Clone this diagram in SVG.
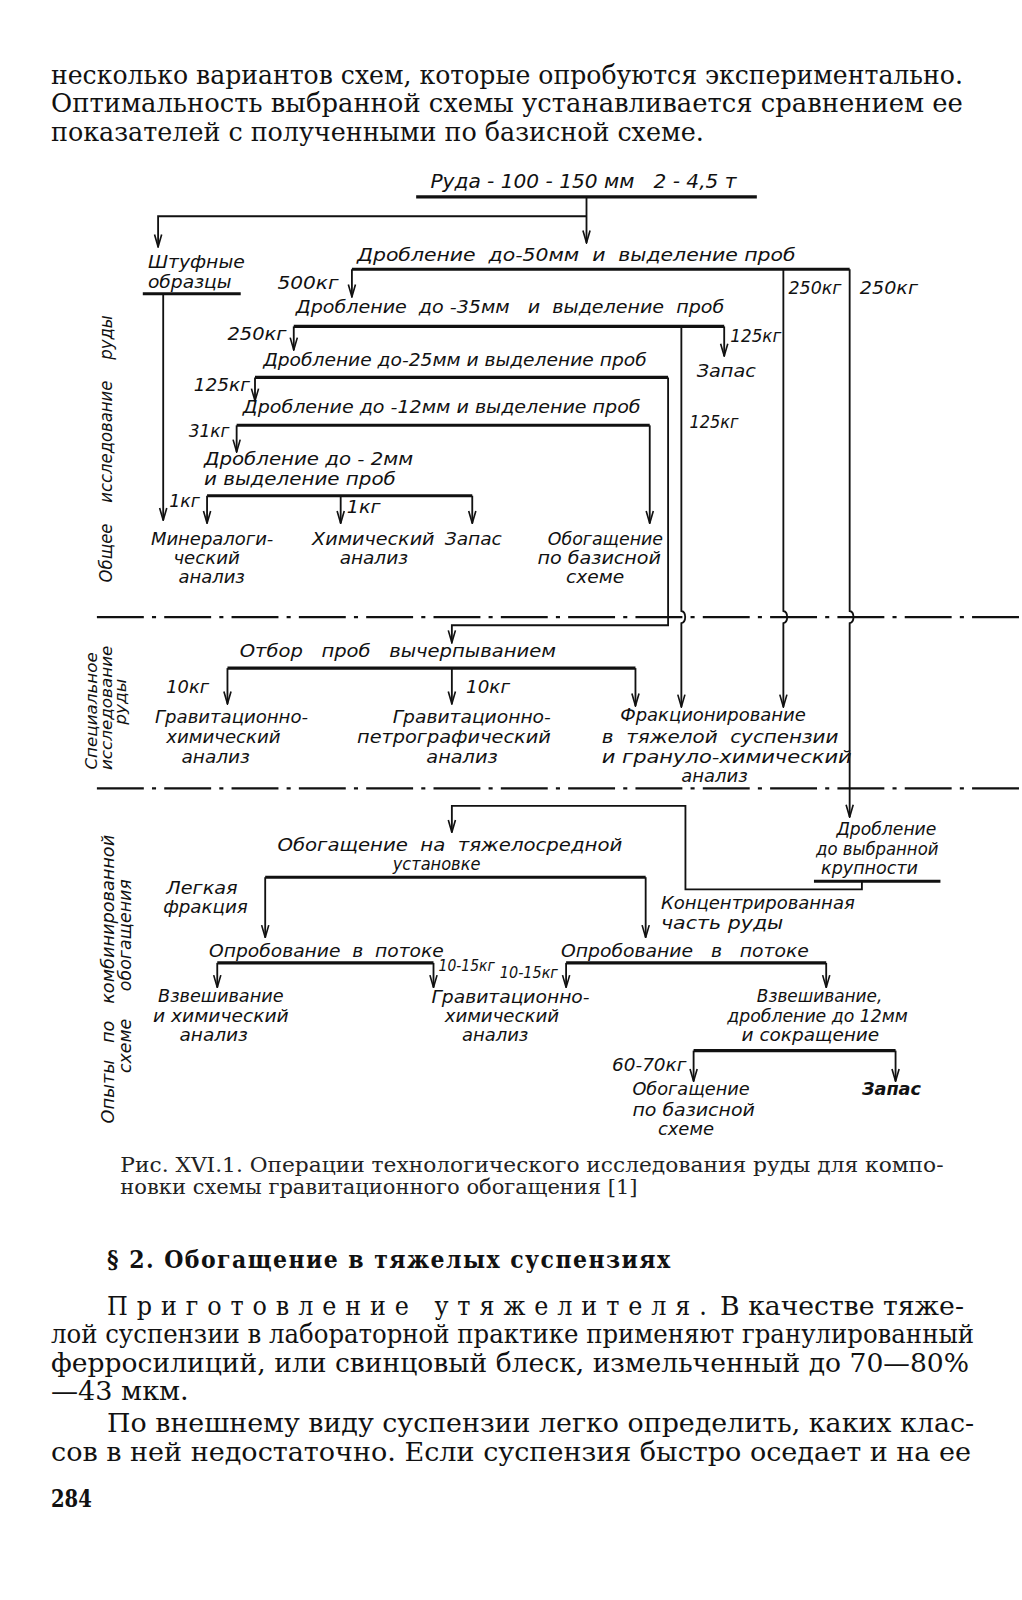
<svg xmlns="http://www.w3.org/2000/svg" width="1022" height="1600" viewBox="0 0 1022 1600">
<style>
.t{font-family:"DejaVu Sans Condensed","Liberation Sans Narrow","Liberation Sans",sans-serif;font-style:italic;font-size:18px;fill:#111}
.b{font-family:"DejaVu Serif Condensed","Liberation Serif",serif;font-size:26px;fill:#111}
.c{font-family:"DejaVu Serif Condensed","Liberation Serif",serif;font-size:20px;fill:#222}
.h{font-family:"DejaVu Serif Condensed","Liberation Serif",serif;font-size:24px;font-weight:bold;fill:#111}
.ln{stroke:#111;stroke-width:1.8;fill:none}
.th{stroke:#111;stroke-width:3;fill:none}
.dd{stroke:#111;stroke-width:2.2;fill:none;stroke-dasharray:46 8 4 8}
.ar{marker-end:url(#arr)}
</style>
<defs>
<marker id="arr" markerUnits="userSpaceOnUse" markerWidth="14" markerHeight="10" viewBox="0 0 14 10" refX="13" refY="5" orient="auto">
<path d="M1,1.5 L13,5 L1,8.5" fill="none" stroke="#111" stroke-width="1.6"/>
</marker>
</defs>
<rect width="1022" height="1600" fill="#fff"/>
<g transform="scale(1.02)">
<g id="page-text-top">
<text class="b" x="50" y="82" textLength="894" lengthAdjust="spacingAndGlyphs">несколько вариантов схем, которые опробуются экспериментально.</text>
<text class="b" x="50" y="110" textLength="894" lengthAdjust="spacingAndGlyphs">Оптимальность выбранной схемы устанавливается сравнением ее</text>
<text class="b" x="50" y="138" textLength="640" lengthAdjust="spacingAndGlyphs">показателей с полученными по базисной схеме.</text>
</g>

<g id="connectors">
<line class="th" x1="408" y1="193" x2="742" y2="193"/>
<path class="ln ar" d="M575 193 V238"/>
<path class="ln ar" d="M575 212 H155 V242"/>
<line class="th" x1="140" y1="288" x2="236" y2="288"/>
<path class="ln ar" d="M160 288 V510"/>
<line class="th" x1="345" y1="264" x2="833" y2="264"/>
<path class="ln ar" d="M345 264 V291"/>
<path class="ln ar" d="M768 264 V599 c5 1 5 11 0 12 V693"/>
<path class="ln ar" d="M833 264 V599 c5 1 5 11 0 12 V801"/>
<line class="th" x1="288" y1="320" x2="710" y2="320"/>
<path class="ln ar" d="M288 320 V343"/>
<path class="ln ar" d="M710 320 V349"/>
<path class="ln ar" d="M668 320 V599 c5 1 5 11 0 12 V693"/>
<line class="th" x1="250" y1="370" x2="655" y2="370"/>
<path class="ln ar" d="M250 370 V393"/>
<path class="ln ar" d="M655 370 V613 H443 V630"/>
<line class="th" x1="232" y1="417" x2="637" y2="417"/>
<path class="ln ar" d="M232 417 V443"/>
<path class="ln ar" d="M637 417 V513"/>
<line class="th" x1="203" y1="486" x2="463" y2="486"/>
<path class="ln ar" d="M203 486 V513"/>
<path class="ln ar" d="M334 486 V513"/>
<path class="ln ar" d="M463 486 V513"/>
<line class="dd" x1="95" y1="605" x2="1000" y2="605"/>
<line class="dd" x1="95" y1="773" x2="1000" y2="773"/>
<line class="th" x1="223" y1="655" x2="623" y2="655"/>
<path class="ln ar" d="M223 655 V690"/>
<path class="ln ar" d="M443 655 V690"/>
<path class="ln ar" d="M623 655 V692"/>
<line class="th" x1="798" y1="864" x2="922" y2="864"/>
<path class="ln ar" d="M845 864 V872 H672 V790 H443 V816"/>
<line class="th" x1="260" y1="860" x2="633" y2="860"/>
<path class="ln ar" d="M260 860 V919"/>
<path class="ln ar" d="M633 860 V919"/>
<line class="th" x1="213" y1="944" x2="425" y2="944"/>
<path class="ln ar" d="M213 944 V968"/>
<path class="ln ar" d="M425 944 V968"/>
<line class="th" x1="555" y1="944" x2="810" y2="944"/>
<path class="ln ar" d="M555 944 V968"/>
<path class="ln ar" d="M810 944 V968"/>
<line class="th" x1="680" y1="1030" x2="878" y2="1030"/>
<path class="ln ar" d="M680 1030 V1060"/>
<path class="ln ar" d="M878 1030 V1060"/>
</g>

<g id="n-ore"><text class="t" x="422" y="184" textLength="300" lengthAdjust="spacingAndGlyphs" xml:space="preserve" style="font-size:19px">Руда - 100 - 150 мм   2 - 4,5 т</text></g>
<g id="n-shtuf">
<text class="t" x="145" y="263" textLength="95" lengthAdjust="spacingAndGlyphs">Штуфные</text>
<text class="t" x="145" y="282" textLength="82" lengthAdjust="spacingAndGlyphs">образцы</text>
</g>
<g id="n-d50">
<text class="t" x="350" y="256" textLength="430" lengthAdjust="spacingAndGlyphs" xml:space="preserve">Дробление  до-50мм  и  выделение проб</text>
<text class="t" x="272" y="283" textLength="60" lengthAdjust="spacingAndGlyphs">500кг</text>
<text class="t" x="773" y="288" textLength="52" lengthAdjust="spacingAndGlyphs">250кг</text>
<text class="t" x="843" y="288" textLength="57" lengthAdjust="spacingAndGlyphs">250кг</text>
</g>
<g id="n-d35">
<text class="t" x="290" y="307" textLength="420" lengthAdjust="spacingAndGlyphs" xml:space="preserve">Дробление  до -35мм   и  выделение  проб</text>
<text class="t" x="223" y="333" textLength="58" lengthAdjust="spacingAndGlyphs">250кг</text>
<text class="t" x="716" y="335" textLength="50" lengthAdjust="spacingAndGlyphs">125кг</text>
<text class="t" x="683" y="370" textLength="58" lengthAdjust="spacingAndGlyphs">Запас</text>
<text class="t" x="676" y="420" textLength="48" lengthAdjust="spacingAndGlyphs">125кг</text>
</g>
<g id="n-d25">
<text class="t" x="258" y="359" textLength="376" lengthAdjust="spacingAndGlyphs" xml:space="preserve">Дробление до-25мм и выделение проб</text>
<text class="t" x="190" y="383" textLength="55" lengthAdjust="spacingAndGlyphs">125кг</text>
</g>
<g id="n-d12">
<text class="t" x="238" y="405" textLength="390" lengthAdjust="spacingAndGlyphs" xml:space="preserve">Дробление до -12мм и выделение проб</text>
<text class="t" x="185" y="428" textLength="40" lengthAdjust="spacingAndGlyphs">31кг</text>
</g>
<g id="n-d2">
<text class="t" x="200" y="456" textLength="205" lengthAdjust="spacingAndGlyphs" xml:space="preserve">Дробление до - 2мм</text>
<text class="t" x="200" y="475" textLength="188" lengthAdjust="spacingAndGlyphs">и выделение проб</text>
<text class="t" x="166" y="497" textLength="30" lengthAdjust="spacingAndGlyphs">1кг</text>
<text class="t" x="340" y="503" textLength="33" lengthAdjust="spacingAndGlyphs">1кг</text>
</g>
<g id="n-mineral">
<text class="t" x="148" y="534" textLength="120" lengthAdjust="spacingAndGlyphs">Минералоги-</text>
<text class="t" x="170" y="553" textLength="65" lengthAdjust="spacingAndGlyphs">ческий</text>
<text class="t" x="175" y="572" textLength="65" lengthAdjust="spacingAndGlyphs">анализ</text>
</g>
<g id="n-chem">
<text class="t" x="306" y="534" textLength="120" lengthAdjust="spacingAndGlyphs">Химический</text>
<text class="t" x="333" y="553" textLength="67" lengthAdjust="spacingAndGlyphs">анализ</text>
</g>
<g id="n-zapas1"><text class="t" x="436" y="534" textLength="56" lengthAdjust="spacingAndGlyphs">Запас</text></g>
<g id="n-obog1">
<text class="t" x="537" y="534" textLength="113" lengthAdjust="spacingAndGlyphs">Обогащение</text>
<text class="t" x="527" y="553" textLength="121" lengthAdjust="spacingAndGlyphs">по базисной</text>
<text class="t" x="555" y="572" textLength="57" lengthAdjust="spacingAndGlyphs">схеме</text>
</g>

<g id="n-otbor">
<text class="t" x="235" y="644" textLength="310" lengthAdjust="spacingAndGlyphs" xml:space="preserve">Отбор   проб   вычерпыванием</text>
<text class="t" x="163" y="679" textLength="42" lengthAdjust="spacingAndGlyphs">10кг</text>
<text class="t" x="457" y="679" textLength="43" lengthAdjust="spacingAndGlyphs">10кг</text>
</g>
<g id="n-gravchem1">
<text class="t" x="152" y="709" textLength="150" lengthAdjust="spacingAndGlyphs">Гравитационно-</text>
<text class="t" x="163" y="728" textLength="112" lengthAdjust="spacingAndGlyphs">химический</text>
<text class="t" x="178" y="748" textLength="67" lengthAdjust="spacingAndGlyphs">анализ</text>
</g>
<g id="n-gravpetro">
<text class="t" x="385" y="709" textLength="155" lengthAdjust="spacingAndGlyphs">Гравитационно-</text>
<text class="t" x="350" y="728" textLength="190" lengthAdjust="spacingAndGlyphs">петрографический</text>
<text class="t" x="418" y="748" textLength="70" lengthAdjust="spacingAndGlyphs">анализ</text>
</g>
<g id="n-frak">
<text class="t" x="608" y="707" textLength="182" lengthAdjust="spacingAndGlyphs">Фракционирование</text>
<text class="t" x="590" y="728" textLength="232" lengthAdjust="spacingAndGlyphs" xml:space="preserve">в  тяжелой  суспензии</text>
<text class="t" x="590" y="748" textLength="245" lengthAdjust="spacingAndGlyphs">и грануло-химический</text>
<text class="t" x="668" y="767" textLength="65" lengthAdjust="spacingAndGlyphs">анализ</text>
</g>

<g id="n-drobvyb">
<text class="t" x="820" y="819" textLength="98" lengthAdjust="spacingAndGlyphs">Дробление</text>
<text class="t" x="800" y="838" textLength="120" lengthAdjust="spacingAndGlyphs">до выбранной</text>
<text class="t" x="805" y="857" textLength="95" lengthAdjust="spacingAndGlyphs">крупности</text>
</g>
<g id="n-tyazh">
<text class="t" x="272" y="834" textLength="338" lengthAdjust="spacingAndGlyphs" xml:space="preserve">Обогащение  на  тяжелосредной</text>
<text class="t" x="385" y="853" textLength="86" lengthAdjust="spacingAndGlyphs">установке</text>
</g>
<g id="n-legk">
<text class="t" x="163" y="876" textLength="70" lengthAdjust="spacingAndGlyphs">Легкая</text>
<text class="t" x="160" y="895" textLength="83" lengthAdjust="spacingAndGlyphs">фракция</text>
</g>
<g id="n-konc">
<text class="t" x="648" y="891" textLength="190" lengthAdjust="spacingAndGlyphs">Концентрированная</text>
<text class="t" x="648" y="911" textLength="120" lengthAdjust="spacingAndGlyphs">часть руды</text>
</g>
<g id="n-oprob1">
<text class="t" x="205" y="938" textLength="230" lengthAdjust="spacingAndGlyphs" xml:space="preserve">Опробование  в  потоке</text>
<text class="t" x="430" y="952" textLength="55" lengthAdjust="spacingAndGlyphs" style="font-size:16px">10-15кг</text>
</g>
<g id="n-oprob2">
<text class="t" x="490" y="959" textLength="57" lengthAdjust="spacingAndGlyphs" style="font-size:16px">10-15кг</text>
<text class="t" x="550" y="938" textLength="243" lengthAdjust="spacingAndGlyphs" xml:space="preserve">Опробование   в   потоке</text>
</g>
<g id="n-vzv1">
<text class="t" x="155" y="982" textLength="123" lengthAdjust="spacingAndGlyphs">Взвешивание</text>
<text class="t" x="150" y="1002" textLength="133" lengthAdjust="spacingAndGlyphs">и химический</text>
<text class="t" x="176" y="1021" textLength="67" lengthAdjust="spacingAndGlyphs">анализ</text>
</g>
<g id="n-gravchem2">
<text class="t" x="423" y="983" textLength="155" lengthAdjust="spacingAndGlyphs">Гравитационно-</text>
<text class="t" x="436" y="1002" textLength="112" lengthAdjust="spacingAndGlyphs">химический</text>
<text class="t" x="453" y="1021" textLength="65" lengthAdjust="spacingAndGlyphs">анализ</text>
</g>
<g id="n-vzv2">
<text class="t" x="742" y="982" textLength="123" lengthAdjust="spacingAndGlyphs">Взвешивание,</text>
<text class="t" x="713" y="1002" textLength="177" lengthAdjust="spacingAndGlyphs">дробление до 12мм</text>
<text class="t" x="727" y="1021" textLength="135" lengthAdjust="spacingAndGlyphs">и сокращение</text>
<text class="t" x="600" y="1050" textLength="73" lengthAdjust="spacingAndGlyphs">60-70кг</text>
</g>
<g id="n-obog2">
<text class="t" x="620" y="1074" textLength="115" lengthAdjust="spacingAndGlyphs">Обогащение</text>
<text class="t" x="620" y="1094" textLength="120" lengthAdjust="spacingAndGlyphs">по базисной</text>
<text class="t" x="645" y="1113" textLength="55" lengthAdjust="spacingAndGlyphs">схеме</text>
</g>
<g id="n-zapas2"><text class="t" x="845" y="1074" textLength="58" lengthAdjust="spacingAndGlyphs" font-weight="bold">Запас</text></g>

<g id="side-labels">
<text class="t" transform="translate(110,440) rotate(-90)" text-anchor="middle" textLength="262" lengthAdjust="spacingAndGlyphs" xml:space="preserve">Общее    исследование    руды</text>
<text class="t" transform="translate(95,697) rotate(-90)" text-anchor="middle" textLength="115" lengthAdjust="spacingAndGlyphs" style="font-size:16px">Специальное</text>
<text class="t" transform="translate(110,694) rotate(-90)" text-anchor="middle" textLength="122" lengthAdjust="spacingAndGlyphs" style="font-size:16px">исследование</text>
<text class="t" transform="translate(124,688) rotate(-90)" text-anchor="middle" textLength="45" lengthAdjust="spacingAndGlyphs" style="font-size:16px">руды</text>
<text class="t" transform="translate(112,960) rotate(-90)" text-anchor="middle" textLength="283" lengthAdjust="spacingAndGlyphs" xml:space="preserve">Опыты   по   комбинированной</text>
<text class="t" transform="translate(128,957) rotate(-90)" text-anchor="middle" textLength="190" lengthAdjust="spacingAndGlyphs" xml:space="preserve">схеме     обогащения</text>
</g>

<g id="caption">
<text class="c" x="118" y="1149" textLength="807" lengthAdjust="spacingAndGlyphs">Рис. XVI.1. Операции технологического исследования руды для компо-</text>
<text class="c" x="118" y="1171" textLength="507" lengthAdjust="spacingAndGlyphs">новки схемы гравитационного обогащения [1]</text>
</g>
<g id="page-text-bottom">
<text class="h" x="105" y="1243" textLength="552" lengthAdjust="spacing">§ 2. Обогащение в тяжелых суспензиях</text>
<text class="b" x="105" y="1289" textLength="588" lengthAdjust="spacing">Приготовление утяжелителя.</text>
<text class="b" x="706" y="1289" textLength="239" lengthAdjust="spacingAndGlyphs">В качестве тяже-</text>
<text class="b" x="50" y="1317" textLength="905" lengthAdjust="spacingAndGlyphs">лой суспензии в лабораторной практике применяют гранулированный</text>
<text class="b" x="50" y="1345" textLength="900" lengthAdjust="spacingAndGlyphs">ферросилиций, или свинцовый блеск, измельченный до 70—80%</text>
<text class="b" x="50" y="1373" textLength="135" lengthAdjust="spacingAndGlyphs">—43 мкм.</text>
<text class="b" x="105" y="1404" textLength="850" lengthAdjust="spacingAndGlyphs">По внешнему виду суспензии легко определить, каких клас-</text>
<text class="b" x="50" y="1432" textLength="902" lengthAdjust="spacingAndGlyphs">сов в ней недостаточно. Если суспензия быстро оседает и на ее</text>
<text class="b" x="50" y="1477" textLength="40" lengthAdjust="spacingAndGlyphs" font-weight="bold" style="font-size:23px">284</text>
</g>
</g>
</svg>
